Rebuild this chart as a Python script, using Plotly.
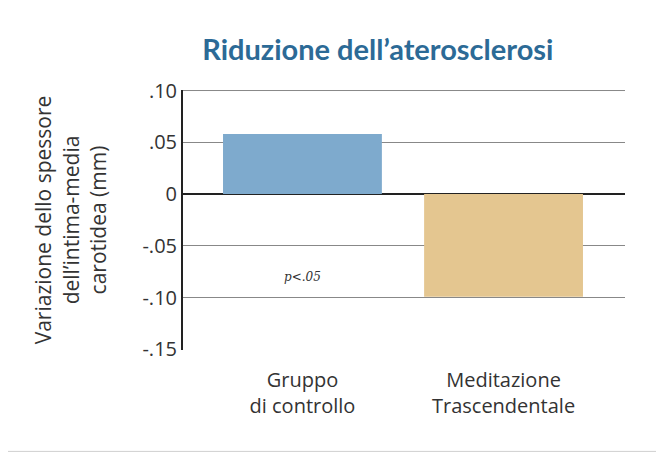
import plotly.graph_objects as go

categories = ["Gruppo<br>di controllo", "Meditazione<br>Trascendentale"]
values = [0.058, -0.099]
colors = ["#7eaacd", "#e4c690"]
tick_vals = [0.10, 0.05, 0, -0.05, -0.10, -0.15]
tick_text = [".10", ".05", "0", "-.05", "-.10", "-.15"]
xpos = list(range(len(categories)))

fig = go.Figure(go.Bar(x=xpos, y=values, width=0.79,
                       marker=dict(color=colors, line=dict(width=0))))
fig.update_layout(
    width=664, height=452, plot_bgcolor="white", paper_bgcolor="white",
    margin=dict(l=175, r=47, t=82, b=110), showlegend=False,
    font=dict(family="Open Sans", color="#333", size=20),
    title=dict(text="<b>Riduzione dell’aterosclerosi</b>", x=0.557, xanchor="center",
               y=0.93, font=dict(size=29, color="#2c6a96", family="Lato")),
    xaxis=dict(range=[-0.594, 1.604], tickvals=xpos, ticktext=categories,
               showgrid=False, zeroline=False, showline=False, ticks="",
               tickfont=dict(size=20), ticklabelstandoff=16),
    yaxis=dict(range=[-0.1505, 0.1005], tickvals=tick_vals, ticktext=tick_text,
               showgrid=True, gridcolor="#888", gridwidth=1,
               showline=True, linecolor="#222", linewidth=2, ticks="",
               zeroline=True, zerolinecolor="#222", zerolinewidth=2,
               tickfont=dict(size=20),
               title=dict(text="Variazione dello spessore<br>dell’intima-media<br>carotidea (mm)",
                          font=dict(size=21), standoff=30)),
)
fig.add_hline(y=0.10, line=dict(color="#888", width=1))
fig.add_annotation(x=0, y=-0.08, text="<i>p<.05</i>", showarrow=False,
                   font=dict(family="DejaVu Serif", size=12, color="#333"))
fig.add_shape(type="line", xref="paper", yref="paper", x0=-0.7, x1=1.2, y0=-0.39, y1=-0.39,
              line=dict(color="#cfcfcf", width=1))
fig.write_html("out.html")
